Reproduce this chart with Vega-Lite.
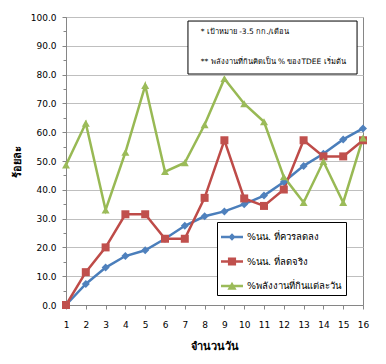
{
  "$schema": "https://vega.github.io/schema/vega-lite/v6.json",
  "width": 297,
  "height": 288,
  "autosize": {"type": "none"},
  "padding": {"left": 66, "top": 17, "right": 23, "bottom": 59},
  "background": "white",
  "config": {
    "font": "DejaVu Sans",
    "view": {"stroke": "#868686", "strokeWidth": 1},
    "axis": {"domainColor": "#868686", "tickColor": "#868686", "gridColor": "#BFBFBF", "labelColor": "#000000", "titleColor": "#000000", "labelFont": "DejaVu Sans", "labelFontSize": 9}
  },
  "datasets": {
    "series": [
      {"day": 1, "series": "%นน. ที่ควรลดลง", "value": 0},
      {"day": 2, "series": "%นน. ที่ควรลดลง", "value": 7.3},
      {"day": 3, "series": "%นน. ที่ควรลดลง", "value": 13},
      {"day": 4, "series": "%นน. ที่ควรลดลง", "value": 17},
      {"day": 5, "series": "%นน. ที่ควรลดลง", "value": 19},
      {"day": 6, "series": "%นน. ที่ควรลดลง", "value": 23},
      {"day": 7, "series": "%นน. ที่ควรลดลง", "value": 27.5},
      {"day": 8, "series": "%นน. ที่ควรลดลง", "value": 30.8},
      {"day": 9, "series": "%นน. ที่ควรลดลง", "value": 32.5},
      {"day": 10, "series": "%นน. ที่ควรลดลง", "value": 35},
      {"day": 11, "series": "%นน. ที่ควรลดลง", "value": 38},
      {"day": 12, "series": "%นน. ที่ควรลดลง", "value": 42.7},
      {"day": 13, "series": "%นน. ที่ควรลดลง", "value": 48.3},
      {"day": 14, "series": "%นน. ที่ควรลดลง", "value": 52.5},
      {"day": 15, "series": "%นน. ที่ควรลดลง", "value": 57.5},
      {"day": 16, "series": "%นน. ที่ควรลดลง", "value": 61.3},
      {"day": 1, "series": "%นน. ที่ลดจริง", "value": 0},
      {"day": 2, "series": "%นน. ที่ลดจริง", "value": 11.4},
      {"day": 3, "series": "%นน. ที่ลดจริง", "value": 20},
      {"day": 4, "series": "%นน. ที่ลดจริง", "value": 31.5},
      {"day": 5, "series": "%นน. ที่ลดจริง", "value": 31.5},
      {"day": 6, "series": "%นน. ที่ลดจริง", "value": 23},
      {"day": 7, "series": "%นน. ที่ลดจริง", "value": 23},
      {"day": 8, "series": "%นน. ที่ลดจริง", "value": 37.2},
      {"day": 9, "series": "%นน. ที่ลดจริง", "value": 57.2},
      {"day": 10, "series": "%นน. ที่ลดจริง", "value": 37},
      {"day": 11, "series": "%นน. ที่ลดจริง", "value": 34.4},
      {"day": 12, "series": "%นน. ที่ลดจริง", "value": 40.1},
      {"day": 13, "series": "%นน. ที่ลดจริง", "value": 57.2},
      {"day": 14, "series": "%นน. ที่ลดจริง", "value": 51.6},
      {"day": 15, "series": "%นน. ที่ลดจริง", "value": 51.6},
      {"day": 16, "series": "%นน. ที่ลดจริง", "value": 57.2},
      {"day": 1, "series": "%พลังงานที่กินแต่ละวัน", "value": 48.6},
      {"day": 2, "series": "%พลังงานที่กินแต่ละวัน", "value": 63.1},
      {"day": 3, "series": "%พลังงานที่กินแต่ละวัน", "value": 33},
      {"day": 4, "series": "%พลังงานที่กินแต่ละวัน", "value": 53},
      {"day": 5, "series": "%พลังงานที่กินแต่ละวัน", "value": 76.2},
      {"day": 6, "series": "%พลังงานที่กินแต่ละวัน", "value": 46.3},
      {"day": 7, "series": "%พลังงานที่กินแต่ละวัน", "value": 49.4},
      {"day": 8, "series": "%พลังงานที่กินแต่ละวัน", "value": 62.6},
      {"day": 9, "series": "%พลังงานที่กินแต่ละวัน", "value": 78.6},
      {"day": 10, "series": "%พลังงานที่กินแต่ละวัน", "value": 69.9},
      {"day": 11, "series": "%พลังงานที่กินแต่ละวัน", "value": 63.6},
      {"day": 12, "series": "%พลังงานที่กินแต่ละวัน", "value": 44.5},
      {"day": 13, "series": "%พลังงานที่กินแต่ละวัน", "value": 35.6},
      {"day": 14, "series": "%พลังงานที่กินแต่ละวัน", "value": 49.8},
      {"day": 15, "series": "%พลังงานที่กินแต่ละวัน", "value": 35.6},
      {"day": 16, "series": "%พลังงานที่กินแต่ละวัน", "value": 58}
    ],
    "notes": [
      {"note": "* เป้าหมาย -3.5 กก./เดือน"}
    ],
    "notes2": [
      {"note": "** พลังงานที่กินคิดเป็น % ของTDEE เริ่มต้น"}
    ]
  },
  "layer": [
    {
      "data": {"name": "series"},
      "mark": {"type": "line", "strokeWidth": 2.5},
      "encoding": {
        "x": {
          "field": "day", "type": "quantitative",
          "scale": {"domain": [1, 16], "nice": false, "zero": false},
          "axis": {
            "values": [1, 2, 3, 4, 5, 6, 7, 8, 9, 10, 11, 12, 13, 14, 15, 16],
            "grid": false, "tickSize": 4, "labelPadding": 11,
            "labelFlush": false, "labelOverlap": false,
            "title": "จำนวนวัน", "titleFontSize": 11, "titleFontWeight": "bold", "titlePadding": 11
          }
        },
        "y": {
          "field": "value", "type": "quantitative",
          "scale": {"domain": [0, 100], "nice": false},
          "axis": {
            "values": [0, 5, 10, 15, 20, 25, 30, 35, 40, 45, 50, 55, 60, 65, 70, 75, 80, 85, 90, 95, 100],
            "labelExpr": "datum.value % 10 === 0 ? format(datum.value, '.1f') : ''",
            "gridOpacity": {"condition": {"test": "datum.value % 10 === 0", "value": 1}, "value": 0},
            "tickSize": {"condition": {"test": "datum.value % 10 === 0", "value": 4}, "value": 3},
            "labelPadding": 6, "labelOverlap": false, "labelFlush": false,
            "title": "ร้อยละ", "titleFontSize": 11, "titleFontWeight": "bold", "titlePadding": 8
          }
        },
        "color": {
          "field": "series", "type": "nominal",
          "scale": {"domain": ["%นน. ที่ควรลดลง", "%นน. ที่ลดจริง", "%พลังงานที่กินแต่ละวัน"], "range": ["#4A7EBB", "#BE4B48", "#98B954"]},
          "legend": null
        }
      }
    },
    {
      "data": {"name": "notes"},
      "mark": {"type": "rect", "fill": "white", "stroke": "black", "strokeWidth": 1},
      "encoding": {
        "x": {
          "datum": 7.16, "type": "quantitative",
          "axis": {
            "values": [1, 2, 3, 4, 5, 6, 7, 8, 9, 10, 11, 12, 13, 14, 15, 16],
            "grid": false, "tickSize": 4, "labelPadding": 11,
            "labelFlush": false, "labelOverlap": false,
            "title": "จำนวนวัน", "titleFontSize": 11, "titleFontWeight": "bold", "titlePadding": 11
          }
        },
        "x2": {"datum": 15.7},
        "y": {
          "datum": 98.6, "type": "quantitative",
          "axis": {
            "values": [0, 5, 10, 15, 20, 25, 30, 35, 40, 45, 50, 55, 60, 65, 70, 75, 80, 85, 90, 95, 100],
            "labelExpr": "datum.value % 10 === 0 ? format(datum.value, '.1f') : ''",
            "gridOpacity": {"condition": {"test": "datum.value % 10 === 0", "value": 1}, "value": 0},
            "tickSize": {"condition": {"test": "datum.value % 10 === 0", "value": 4}, "value": 3},
            "labelPadding": 6, "labelOverlap": false, "labelFlush": false,
            "title": "ร้อยละ", "titleFontSize": 11, "titleFontWeight": "bold", "titlePadding": 8
          }
        },
        "y2": {"datum": 80.2}
      }
    },
    {
      "data": {"name": "notes"},
      "mark": {"type": "text", "align": "left", "baseline": "middle", "fontSize": 7.5, "color": "black"},
      "encoding": {
        "x": {
          "datum": 7.8, "type": "quantitative",
          "axis": {
            "values": [1, 2, 3, 4, 5, 6, 7, 8, 9, 10, 11, 12, 13, 14, 15, 16],
            "grid": false, "tickSize": 4, "labelPadding": 11,
            "labelFlush": false, "labelOverlap": false,
            "title": "จำนวนวัน", "titleFontSize": 11, "titleFontWeight": "bold", "titlePadding": 11
          }
        },
        "y": {
          "datum": 94.8, "type": "quantitative",
          "axis": {
            "values": [0, 5, 10, 15, 20, 25, 30, 35, 40, 45, 50, 55, 60, 65, 70, 75, 80, 85, 90, 95, 100],
            "labelExpr": "datum.value % 10 === 0 ? format(datum.value, '.1f') : ''",
            "gridOpacity": {"condition": {"test": "datum.value % 10 === 0", "value": 1}, "value": 0},
            "tickSize": {"condition": {"test": "datum.value % 10 === 0", "value": 4}, "value": 3},
            "labelPadding": 6, "labelOverlap": false, "labelFlush": false,
            "title": "ร้อยละ", "titleFontSize": 11, "titleFontWeight": "bold", "titlePadding": 8
          }
        },
        "text": {"field": "note"}
      }
    },
    {
      "data": {"name": "notes2"},
      "mark": {"type": "text", "align": "left", "baseline": "middle", "fontSize": 7.5, "color": "black"},
      "encoding": {
        "x": {
          "datum": 7.8, "type": "quantitative",
          "axis": {
            "values": [1, 2, 3, 4, 5, 6, 7, 8, 9, 10, 11, 12, 13, 14, 15, 16],
            "grid": false, "tickSize": 4, "labelPadding": 11,
            "labelFlush": false, "labelOverlap": false,
            "title": "จำนวนวัน", "titleFontSize": 11, "titleFontWeight": "bold", "titlePadding": 11
          }
        },
        "y": {
          "datum": 84.4, "type": "quantitative",
          "axis": {
            "values": [0, 5, 10, 15, 20, 25, 30, 35, 40, 45, 50, 55, 60, 65, 70, 75, 80, 85, 90, 95, 100],
            "labelExpr": "datum.value % 10 === 0 ? format(datum.value, '.1f') : ''",
            "gridOpacity": {"condition": {"test": "datum.value % 10 === 0", "value": 1}, "value": 0},
            "tickSize": {"condition": {"test": "datum.value % 10 === 0", "value": 4}, "value": 3},
            "labelPadding": 6, "labelOverlap": false, "labelFlush": false,
            "title": "ร้อยละ", "titleFontSize": 11, "titleFontWeight": "bold", "titlePadding": 8
          }
        },
        "text": {"field": "note"}
      }
    },
    {
      "data": {"name": "series"},
      "mark": {"type": "point", "filled": true, "opacity": 1, "size": 64},
      "encoding": {
        "x": {
          "field": "day", "type": "quantitative",
          "axis": {
            "values": [1, 2, 3, 4, 5, 6, 7, 8, 9, 10, 11, 12, 13, 14, 15, 16],
            "grid": false, "tickSize": 4, "labelPadding": 11,
            "labelFlush": false, "labelOverlap": false,
            "title": "จำนวนวัน", "titleFontSize": 11, "titleFontWeight": "bold", "titlePadding": 11
          }
        },
        "y": {
          "field": "value", "type": "quantitative",
          "axis": {
            "values": [0, 5, 10, 15, 20, 25, 30, 35, 40, 45, 50, 55, 60, 65, 70, 75, 80, 85, 90, 95, 100],
            "labelExpr": "datum.value % 10 === 0 ? format(datum.value, '.1f') : ''",
            "gridOpacity": {"condition": {"test": "datum.value % 10 === 0", "value": 1}, "value": 0},
            "tickSize": {"condition": {"test": "datum.value % 10 === 0", "value": 4}, "value": 3},
            "labelPadding": 6, "labelOverlap": false, "labelFlush": false,
            "title": "ร้อยละ", "titleFontSize": 11, "titleFontWeight": "bold", "titlePadding": 8
          }
        },
        "color": {
          "field": "series", "type": "nominal",
          "scale": {"domain": ["%นน. ที่ควรลดลง", "%นน. ที่ลดจริง", "%พลังงานที่กินแต่ละวัน"], "range": ["#4F81BD", "#C0504D", "#9BBB59"]},
          "legend": null
        },
        "shape": {
          "field": "series", "type": "nominal",
          "scale": {"domain": ["%นน. ที่ควรลดลง", "%นน. ที่ลดจริง", "%พลังงานที่กินแต่ละวัน"], "range": ["diamond", "square", "triangle-up"]},
          "legend": null
        }
      }
    },
    {
      "data": {"name": "series"},
      "transform": [{"filter": "false"}],
      "mark": {"type": "point", "filled": true, "opacity": 1},
      "encoding": {
        "x": {
          "field": "day", "type": "quantitative",
          "axis": {
            "values": [1, 2, 3, 4, 5, 6, 7, 8, 9, 10, 11, 12, 13, 14, 15, 16],
            "grid": false, "tickSize": 4, "labelPadding": 11,
            "labelFlush": false, "labelOverlap": false,
            "title": "จำนวนวัน", "titleFontSize": 11, "titleFontWeight": "bold", "titlePadding": 11
          }
        },
        "y": {
          "field": "value", "type": "quantitative",
          "axis": {
            "values": [0, 5, 10, 15, 20, 25, 30, 35, 40, 45, 50, 55, 60, 65, 70, 75, 80, 85, 90, 95, 100],
            "labelExpr": "datum.value % 10 === 0 ? format(datum.value, '.1f') : ''",
            "gridOpacity": {"condition": {"test": "datum.value % 10 === 0", "value": 1}, "value": 0},
            "tickSize": {"condition": {"test": "datum.value % 10 === 0", "value": 4}, "value": 3},
            "labelPadding": 6, "labelOverlap": false, "labelFlush": false,
            "title": "ร้อยละ", "titleFontSize": 11, "titleFontWeight": "bold", "titlePadding": 8
          }
        },
        "color": {
          "field": "series", "type": "nominal",
          "scale": {"domain": ["%นน. ที่ควรลดลง", "%นน. ที่ลดจริง", "%พลังงานที่กินแต่ละวัน"], "range": ["#4F81BD", "#C0504D", "#9BBB59"]},
          "legend": {
            "title": null, "orient": "none", "legendX": 151, "legendY": 205,
            "strokeColor": "black", "fillColor": "white", "padding": 4,
            "symbolSize": 484, "symbolStrokeWidth": 0, "rowPadding": 8.5,
            "labelFontSize": 9.5, "labelOffset": 4, "labelLimit": 300, "labelColor": "black"
          }
        },
        "shape": {
          "field": "series", "type": "nominal",
          "scale": {"domain": ["%นน. ที่ควรลดลง", "%นน. ที่ลดจริง", "%พลังงานที่กินแต่ละวัน"], "range": ["M-1,-0.12H1V0.12H-1Z M0,-0.33L0.33,0L0,0.33L-0.33,0Z", "M-1,-0.12H1V0.12H-1Z M-0.37,-0.37H0.37V0.37H-0.37Z", "M-1,-0.12H1V0.12H-1Z M0,-0.38L0.42,0.34L-0.42,0.34Z"]},
          "legend": {
            "title": null, "orient": "none", "legendX": 151, "legendY": 205,
            "strokeColor": "black", "fillColor": "white", "padding": 4,
            "symbolSize": 484, "symbolStrokeWidth": 0, "rowPadding": 8.5,
            "labelFontSize": 9.5, "labelOffset": 4, "labelLimit": 300, "labelColor": "black"
          }
        }
      }
    }
  ],
  "resolve": {"scale": {"color": "independent", "shape": "independent"}}
}
